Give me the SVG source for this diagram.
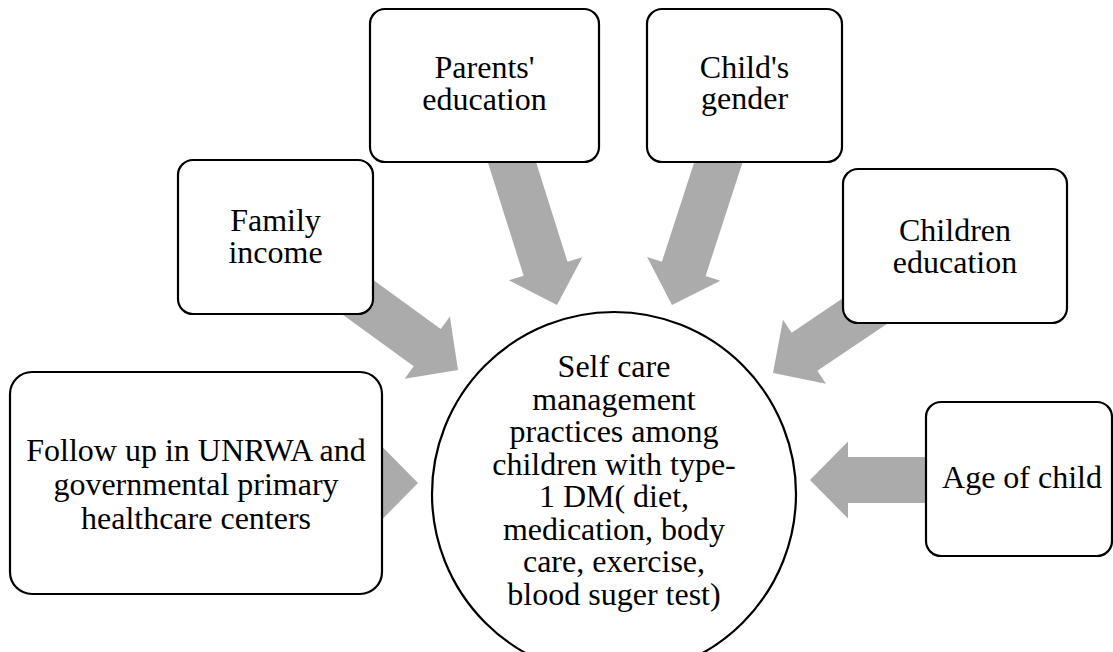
<svg xmlns="http://www.w3.org/2000/svg" xmlns:xlink="http://www.w3.org/1999/xlink" width="1113" height="652" viewBox="0 0 1113 652">
<style>
.box{fill:#ffffff;stroke:#000000;stroke-width:2.2}
.arrow{fill:#ABABAB;stroke:none}
text{font-family:"Liberation Serif","Times New Roman",serif;font-size:32px;fill:#000000;text-anchor:middle}
</style>
<defs>
<polygon id="arr" points="0,0 -38,-38.5 -38,-23 -210,-23 -210,23 -38,23 -38,38.5"/>
</defs>
<rect width="1113" height="652" fill="#ffffff"/>
<g id="connectors">
<use xlink:href="#arr" href="#arr" class="arrow" transform="translate(458,370) rotate(36)"/>
<use xlink:href="#arr" href="#arr" class="arrow" transform="translate(557,305) rotate(72.5)"/>
<use xlink:href="#arr" href="#arr" class="arrow" transform="translate(672,305) rotate(108)"/>
<use xlink:href="#arr" href="#arr" class="arrow" transform="translate(773,373) rotate(146)"/>
<use xlink:href="#arr" href="#arr" class="arrow" transform="translate(810,480) rotate(180)"/>
<use xlink:href="#arr" href="#arr" class="arrow" transform="translate(418,483)"/>
</g>
<g id="node-parents">
<rect class="box" x="370" y="9" width="229" height="153" rx="15"/>
<text x="484.5" y="78">Parents'</text>
<text x="484.5" y="110">education</text>
</g>
<g id="node-gender">
<rect class="box" x="647" y="9" width="195" height="153" rx="15"/>
<text x="744.5" y="78">Child's</text>
<text x="744.5" y="109">gender</text>
</g>
<g id="node-income">
<rect class="box" x="178" y="160" width="195" height="154" rx="15"/>
<text x="275.5" y="231">Family</text>
<text x="275.5" y="263">income</text>
</g>
<g id="node-children-education">
<rect class="box" x="843" y="169" width="224" height="154" rx="15"/>
<text x="955" y="240.5">Children</text>
<text x="955" y="272.5">education</text>
</g>
<g id="node-followup">
<rect class="box" x="10" y="372" width="372" height="222" rx="22"/>
<text x="196" y="461">Follow up in UNRWA and</text>
<text x="196" y="495">governmental primary</text>
<text x="196" y="529">healthcare centers</text>
</g>
<g id="node-age">
<rect class="box" x="926" y="402" width="186" height="154" rx="15"/>
<text x="1022" y="488">Age of child</text>
</g>
<g id="node-selfcare">
<circle class="box" cx="614" cy="494" r="182"/>
<text x="614" y="377">Self care</text>
<text x="614" y="409.6">management</text>
<text x="614" y="442.1">practices among</text>
<text x="614" y="474.7">children with type-</text>
<text x="614" y="507.3">1 DM( diet,</text>
<text x="614" y="539.9">medication, body</text>
<text x="614" y="572.4">care, exercise,</text>
<text x="614" y="605">blood suger test)</text>
</g>
</svg>
